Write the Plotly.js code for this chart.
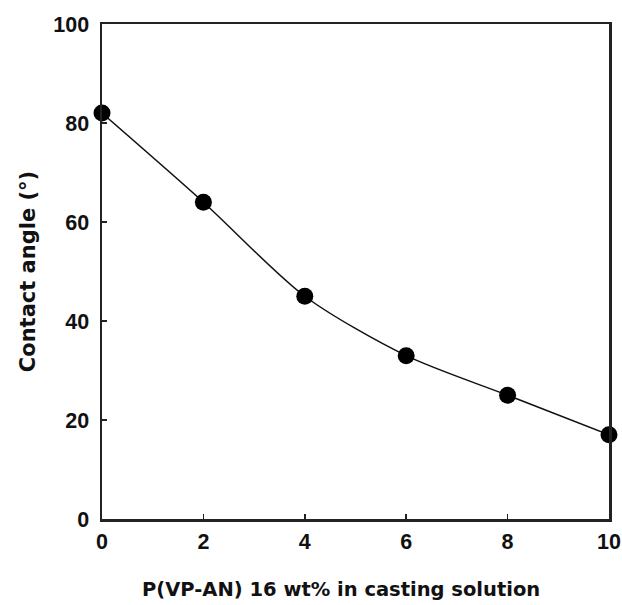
<!DOCTYPE html>
<html>
<head>
<meta charset="utf-8">
<script src="https://cdn.plot.ly/plotly-3.0.1.min.js"></script>
<style>
  html, body { margin: 0; padding: 0; background: #fff; }
  #chart { width: 622px; height: 605px; }
</style>
</head>
<body>
<div id="chart"></div>
<script>
// P(VP-AN) content in the casting solution (wt%)
const vpAnContent = [0, 2, 4, 6, 8, 10];
// Measured water contact angle (degrees)
const contactAngle = [82, 64, 45, 33, 25, 17];

const xTicks = [0, 2, 4, 6, 8, 10];
const yTicks = [0, 20, 40, 60, 80, 100];

const xTitle = 'P(VP-AN) 16 wt% in casting solution';
const yTitle = 'Contact angle (°)';

const tickFont = { family: 'Liberation Sans, Arial, sans-serif', size: 21.5, color: '#111', weight: 'bold' };

const trace = {
  x: vpAnContent,
  y: contactAngle,
  mode: 'lines+markers',
  line: { color: '#111', width: 1.5, shape: 'spline', smoothing: 0.8 },
  marker: { color: '#000', size: 17, symbol: 'circle' },
  cliponaxis: false,
  hoverinfo: 'x+y'
};

const axisCommon = {
  ticks: 'inside',
  ticklen: 5,
  tickwidth: 1.5,
  tickcolor: '#222',
  showgrid: false,
  zeroline: false,
  showline: true,
  mirror: true,
  linecolor: '#222',
  linewidth: 2.5,
  tickfont: tickFont
};

const layout = {
  width: 622,
  height: 605,
  margin: { l: 102, r: 13, t: 24, b: 86 },
  paper_bgcolor: '#fff',
  plot_bgcolor: '#fff',
  showlegend: false,
  xaxis: Object.assign({}, axisCommon, {
    range: [0, 10],
    tickvals: xTicks,
    ticktext: xTicks.map(String),
    ticklabelstandoff: 2
  }),
  yaxis: Object.assign({}, axisCommon, {
    range: [0, 100],
    tickvals: yTicks,
    ticktext: yTicks.map(String),
    ticklabelstandoff: 6,
    title: {
      text: yTitle,
      font: { family: 'DejaVu Sans, Verdana, sans-serif', size: 21, color: '#111', weight: 'bold' },
      standoff: 12
    }
  }),
  annotations: [{
    text: xTitle,
    xref: 'paper', yref: 'paper',
    x: 0.47, y: -0.143,
    xanchor: 'center', yanchor: 'middle',
    showarrow: false,
    font: { family: 'DejaVu Sans, Verdana, sans-serif', size: 19.5, color: '#111', weight: 'bold' }
  }]
};

// x-axis title sits slightly left of the plot centre, at pixel 341
layout.annotations[0].x = (341 - layout.margin.l) / (layout.width - layout.margin.l - layout.margin.r);

Plotly.newPlot('chart', [trace], layout, { displayModeBar: false, staticPlot: true });
</script>
</body>
</html>
